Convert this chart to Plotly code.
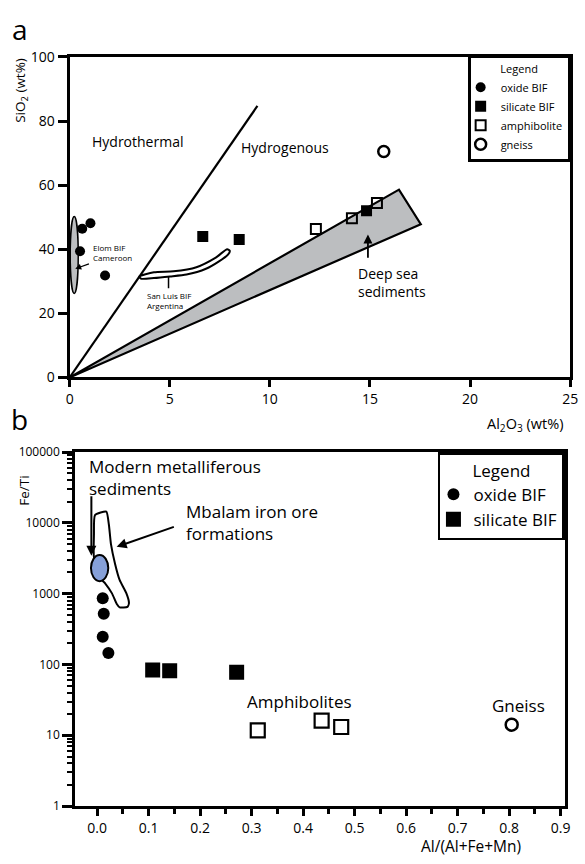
import numpy as np
import plotly.graph_objects as go

W, H = 585, 864
FONT = "Open Sans"
TICKCOLOR = "black"

# ---------------- Panel a data (Al2O3 vs SiO2, wt%) ----------------
a_oxide_x = [0.63, 1.04, 0.52, 1.77]
a_oxide_y = [46.4, 48.1, 39.4, 31.8]
a_silicate_x = [6.65, 8.47, 14.83]
a_silicate_y = [44.0, 43.0, 52.0]
a_amph_x = [12.3, 14.1, 15.35]
a_amph_y = [46.3, 49.7, 54.4]
a_gneiss_x = [15.69]
a_gneiss_y = [70.5]

hydro_line_x = [0, 9.38]
hydro_line_y = [0, 84.7]
deepsea_x = [0, 16.45, 17.54, 0]
deepsea_y = [0, 58.6, 47.8, 0]

sanluis_x = [3.48, 4.21, 5.19, 6.33, 7.30, 7.87, 8.00, 7.92, 7.46, 6.81, 5.84, 5.02, 4.21, 3.56, 3.48]
sanluis_y = [31.5, 32.8, 33.1, 34.4, 37.4, 40.0, 39.5, 38.4, 36.2, 33.9, 32.1, 31.5, 31.0, 30.8, 31.5]
sanluis_tick_x = [4.94, 4.94]
sanluis_tick_y = [31.4, 27.8]

elom_x = [0.03, 0.43]
elom_y = [26.2, 50.2]

deepsea_arrow_x = [14.9, 14.9]
deepsea_arrow_y = [36.9, 44.6]
elom_arrow_x = [1.04, 0.28]
elom_arrow_y = [35.6, 33.9]

a_xticks = [0, 5, 10, 15, 20, 25]
a_yticks = [0, 20, 40, 60, 80, 100]

# ---------------- Panel b data (Al/(Al+Fe+Mn) vs Fe/Ti) ----------------
b_oxide_x = [0.011, 0.013, 0.011, 0.022]
b_oxide_y = [864, 519, 247, 145]
b_silicate_x = [0.108, 0.141, 0.271]
b_silicate_y = [83.7, 81.8, 77.8]
b_amph_x = [0.312, 0.436, 0.474]
b_amph_y = [11.7, 16.1, 13.1]
b_gneiss_x = [0.805]
b_gneiss_y = [14.1]

mbalam_x = [0.018, 0.023, 0.027, 0.035, 0.044, 0.057, 0.062, 0.059, 0.044, 0.038,
            0.029, 0.016, 0.010, -0.006, -0.006, -0.004, 0.018]
mbalam_y = [14400, 9400, 5000, 2630, 1550, 1010, 740, 650, 640, 720,
            1010, 1390, 1550, 3260, 6840, 12900, 14400]
modern_x = [-0.0118, 0.0218]
modern_y = [1504, 3508]

modern_arrow_x = [-0.011, -0.011]
modern_arrow_y = [25000, 3436]
mbalam_arrow_x = [0.152, 0.038]
mbalam_arrow_y = [8930, 4581]

b_xticks = [0.0, 0.1, 0.2, 0.3, 0.4, 0.5, 0.6, 0.7, 0.8, 0.9]
b_xminor = [0.05, 0.15, 0.25, 0.35, 0.45, 0.55, 0.65, 0.75, 0.85]
b_yticks = [1, 10, 100, 1000, 10000, 100000]
b_yticklabels = ["1", "10", "100", "1000", "10000", "100000"]
b_yminor = [m * 10 ** k for k in range(5) for m in range(2, 10)]


def pxx(v):
    return v / W


def pxy(v):
    return 1 - v / H


fig = go.Figure()

line_k = dict(color="black", width=2.2)

# ---- panel a traces ----
fig.add_trace(go.Scatter(x=deepsea_x, y=deepsea_y, mode="lines", fill="toself",
                         fillcolor="#bcbec0", line=line_k,
                         showlegend=False, hoverinfo="skip", xaxis="x", yaxis="y"))
fig.add_trace(go.Scatter(x=hydro_line_x, y=hydro_line_y, mode="lines",
                         line=line_k, showlegend=False,
                         hoverinfo="skip", xaxis="x", yaxis="y"))
fig.add_trace(go.Scatter(x=sanluis_x, y=sanluis_y, mode="lines",
                         line=dict(color="black", width=2, shape="spline", smoothing=0.6),
                         showlegend=False, hoverinfo="skip", xaxis="x", yaxis="y"))
fig.add_trace(go.Scatter(x=sanluis_tick_x, y=sanluis_tick_y, mode="lines",
                         line=dict(color="black", width=1.5), showlegend=False,
                         hoverinfo="skip", xaxis="x", yaxis="y"))

fig.add_trace(go.Scatter(x=a_oxide_x, y=a_oxide_y, mode="markers", name="oxide BIF",
                         marker=dict(symbol="circle", size=10, color="black"),
                         legend="legend", xaxis="x", yaxis="y"))
fig.add_trace(go.Scatter(x=a_silicate_x, y=a_silicate_y, mode="markers", name="silicate BIF",
                         marker=dict(symbol="square", size=11, color="black"),
                         legend="legend", xaxis="x", yaxis="y"))
fig.add_trace(go.Scatter(x=a_amph_x, y=a_amph_y, mode="markers", name="amphibolite",
                         marker=dict(symbol="square-open", size=10, color="black",
                                     line=dict(width=2, color="black")),
                         legend="legend", xaxis="x", yaxis="y"))
fig.add_trace(go.Scatter(x=a_gneiss_x, y=a_gneiss_y, mode="markers", name="gneiss",
                         marker=dict(symbol="circle-open", size=11, color="black",
                                     line=dict(width=2.5, color="black")),
                         legend="legend", xaxis="x", yaxis="y"))

# ---- panel b traces ----
fig.add_trace(go.Scatter(x=mbalam_x, y=mbalam_y, mode="lines",
                         line=dict(color="black", width=2, shape="spline", smoothing=0.5),
                         showlegend=False, hoverinfo="skip", xaxis="x2", yaxis="y2"))

fig.add_trace(go.Scatter(x=b_oxide_x, y=b_oxide_y, mode="markers", name="oxide BIF",
                         marker=dict(symbol="circle", size=12, color="black"),
                         legend="legend2", xaxis="x2", yaxis="y2"))
fig.add_trace(go.Scatter(x=b_silicate_x, y=b_silicate_y, mode="markers", name="silicate BIF",
                         marker=dict(symbol="square", size=15, color="black"),
                         legend="legend2", xaxis="x2", yaxis="y2"))
fig.add_trace(go.Scatter(x=b_amph_x, y=b_amph_y, mode="markers", name="amphibolite",
                         marker=dict(symbol="square-open", size=14, color="black",
                                     line=dict(width=2.2, color="black")),
                         showlegend=False, xaxis="x2", yaxis="y2"))
fig.add_trace(go.Scatter(x=b_gneiss_x, y=b_gneiss_y, mode="markers", name="gneiss",
                         marker=dict(symbol="circle-open", size=12, color="black",
                                     line=dict(width=2.5, color="black")),
                         showlegend=False, xaxis="x2", yaxis="y2"))

# invisible traces that register the minor-tick overlay axes
fig.add_trace(go.Scatter(x=[None], y=[None], mode="markers", showlegend=False,
                         hoverinfo="skip", xaxis="x3", yaxis="y2"))
fig.add_trace(go.Scatter(x=[None], y=[None], mode="markers", showlegend=False,
                         hoverinfo="skip", xaxis="x2", yaxis="y3"))

shapes = [
    dict(type="circle", xref="x", yref="y", x0=elom_x[0], x1=elom_x[1],
         y0=elom_y[0], y1=elom_y[1], fillcolor="#bcbec0",
         line=dict(color="black", width=1.5), layer="below"),
    dict(type="circle", xref="x2", yref="y2", x0=modern_x[0], x1=modern_x[1],
         y0=modern_y[0], y1=modern_y[1], fillcolor="#86a0d8",
         line=dict(color="black", width=2), layer="above"),
]

txt = dict(family=FONT, color="black")
ann = []


def add_text(text, x, y, size, xref="x", yref="y", xanchor="center", yanchor="middle",
             align="center", angle=0):
    ann.append(dict(text=text, x=x, y=y, xref=xref, yref=yref, showarrow=False,
                    xanchor=xanchor, yanchor=yanchor, align=align, textangle=angle,
                    font=dict(size=size, **txt)))


def add_arrow(xs, ys, xref, yref, log=False, width=1.6, size=1.0):
    ty = np.log10(ys) if log else ys
    ann.append(dict(text="", x=xs[1], y=float(ty[1]), ax=xs[0], ay=float(ty[0]),
                    xref=xref, yref=yref, axref=xref, ayref=yref, showarrow=True,
                    arrowhead=2, arrowsize=size, arrowwidth=width, arrowcolor="black"))


# panel a labels
add_text("Hydrothermal", 3.39, 73.6, 14)
add_text("Hydrogenous", 10.77, 71.6, 14)
add_text("Deep sea<br>sediments", 14.3, 29.6, 14, xanchor="left", align="left")
add_arrow(deepsea_arrow_x, deepsea_arrow_y, "x", "y", width=1.8)
add_text("Elom BIF<br>Cameroon", 1.09, 39.0, 8, xanchor="left", align="left")
add_arrow(elom_arrow_x, elom_arrow_y, "x", "y", width=1.2)
add_text("San Luis BIF<br>Argentina", 3.76, 23.9, 8, xanchor="left", align="left")

# panel b labels (log axis -> log10 positions)
add_text("Modern metalliferous<br>sediments", -0.020, 4.64, 17, xref="x2", yref="y2",
         xanchor="left", align="left")
add_arrow(modern_arrow_x, modern_arrow_y, "x2", "y2", log=True, width=2)
add_text("Mbalam iron ore<br>formations", 0.168, 4.0, 17, xref="x2", yref="y2",
         xanchor="left", align="left")
add_arrow(mbalam_arrow_x, mbalam_arrow_y, "x2", "y2", log=True, width=2)
add_text("Amphibolites", 0.393, 1.476, 17, xref="x2", yref="y2")
add_text("Gneiss", 0.8175, 1.415, 17, xref="x2", yref="y2")

# panel letters and axis titles
add_text("a", pxx(16), pxy(19), 28, xref="paper", yref="paper")
add_text("b", pxx(16), pxy(418), 28, xref="paper", yref="paper")
add_text("SiO<sub>2</sub> (wt%)", pxx(18), pxy(82), 13.5, xref="paper", yref="paper", angle=-90)
add_text("Al<sub>2</sub>O<sub>3</sub> (wt%)", pxx(573), pxy(424), 14.5, xref="paper",
         yref="paper", xanchor="right")
add_text("Fe/Ti", pxx(21), pxy(492), 13.5, xref="paper", yref="paper", angle=-90)
add_text("Al/(Al+Fe+Mn)", pxx(477), pxy(855), 15.5, xref="paper", yref="paper")

axis_common = dict(showline=True, linewidth=3, linecolor="black", mirror=True,
                   ticks="outside", tickwidth=2.8, tickcolor=TICKCOLOR, showgrid=False,
                   zeroline=False)
overlay_common = dict(showline=False, showgrid=False, zeroline=False, ticks="outside",
                      tickcolor=TICKCOLOR, showticklabels=False)

fig.update_layout(
    width=W, height=H, autosize=False,
    margin=dict(l=0, r=0, t=0, b=0),
    paper_bgcolor="white", plot_bgcolor="white",
    font=dict(family=FONT, color="black"),
    shapes=shapes, annotations=ann,
    xaxis=dict(domain=[pxx(67), pxx(578)], anchor="y", range=[0, 25],
               tickvals=a_xticks, ticklen=7, tickfont=dict(size=14), **axis_common),
    yaxis=dict(domain=[pxy(375.7), pxy(48)], anchor="x", range=[0, 100],
               tickvals=a_yticks, ticklen=9, tickfont=dict(size=14), **axis_common),
    xaxis2=dict(domain=[pxx(72.7), pxx(572.7)], anchor="y2", range=[-0.0424, 0.9084],
                tickvals=b_xticks, tickformat=".1f", ticklen=7, tickfont=dict(size=14),
                **axis_common),
    yaxis2=dict(domain=[pxy(814), pxy(452)], anchor="x2", type="log", range=[0, 5],
                tickvals=b_yticks, ticktext=b_yticklabels, ticklen=10,
                tickfont=dict(size=12), **axis_common),
    xaxis3=dict(overlaying="x2", anchor="y2", range=[-0.0424, 0.9084],
                tickvals=b_xminor, ticklen=7, tickwidth=2.8, **overlay_common),
    yaxis3=dict(overlaying="y2", anchor="x2", type="log", range=[0, 5],
                tickvals=b_yminor, ticklen=7, tickwidth=2, **overlay_common),
    legend=dict(x=pxx(578), y=pxy(47), xanchor="right", yanchor="top",
                bgcolor="white", bordercolor="black", borderwidth=2.5,
                font=dict(size=11, family=FONT, color="black"),
                title=dict(text="Legend", side="top center",
                           font=dict(size=11, family=FONT, color="black")),
                itemwidth=30, tracegroupgap=0, indentation=-10),
    legend2=dict(x=pxx(572.7), y=pxy(452), xanchor="right", yanchor="top",
                 bgcolor="white", bordercolor="black", borderwidth=2.5,
                 font=dict(size=17, family=FONT, color="black"),
                 title=dict(text="Legend", side="top center",
                            font=dict(size=17, family=FONT, color="black")),
                 itemwidth=30, tracegroupgap=0, indentation=-7),
)

fig.write_html("out.html")
